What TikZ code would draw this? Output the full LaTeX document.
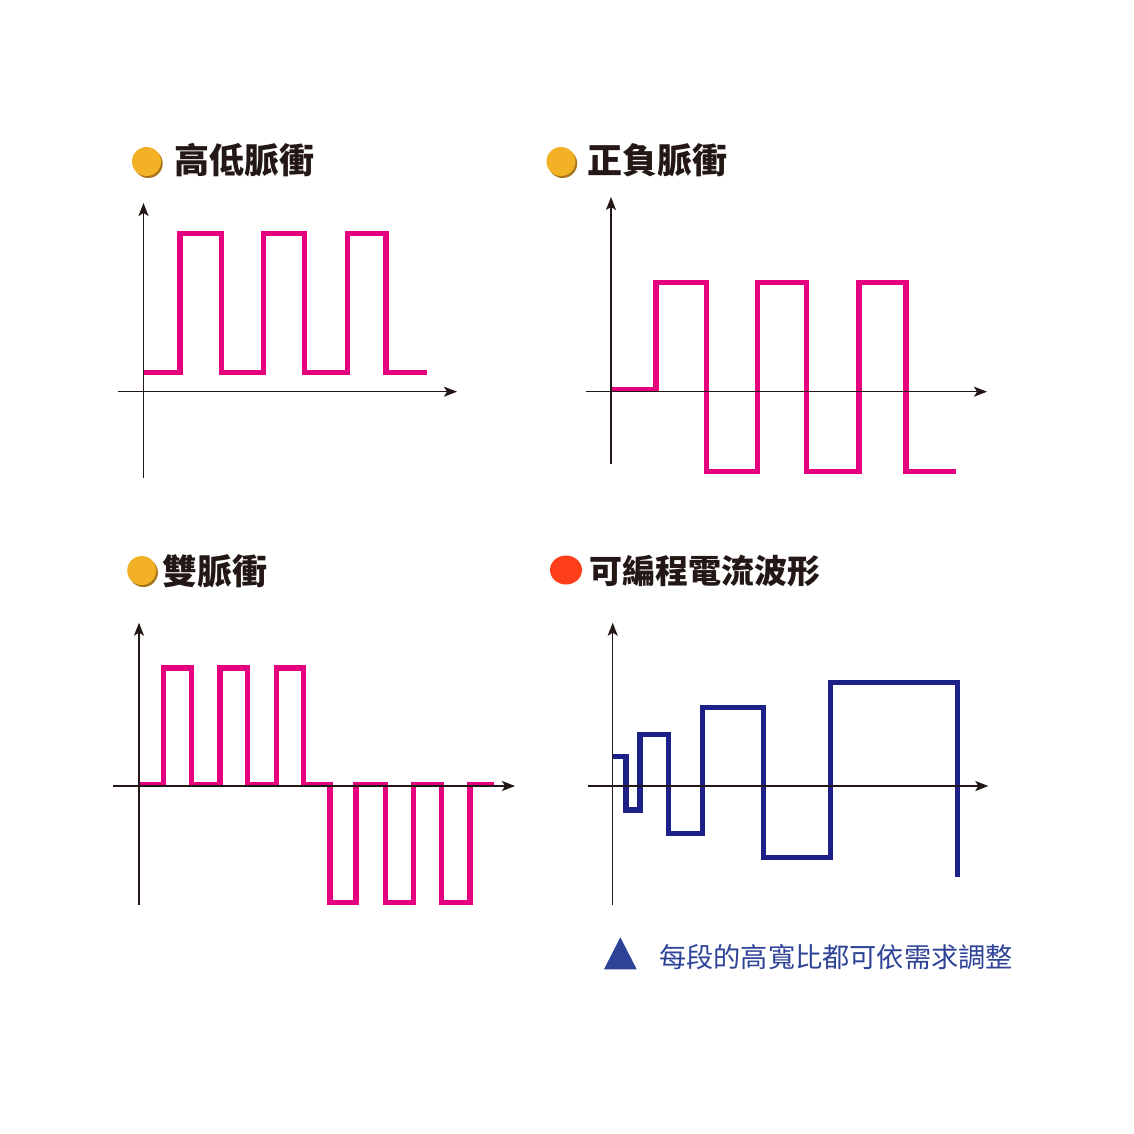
\documentclass[tikz,border=0pt]{standalone}
\usepackage{fontspec}
\usetikzlibrary{arrows.meta}
\newfontfamily\cjk{Noto Sans CJK TC}
\definecolor{inkdark}{HTML}{231815}
\definecolor{wavepink}{HTML}{E4007F}
\definecolor{wavenavy}{HTML}{1D2088}
\definecolor{bulgold}{HTML}{F3B225}
\definecolor{bulshadow}{HTML}{A8761A}
\definecolor{bulred}{HTML}{FF3F1A}
\definecolor{noteblue}{HTML}{2E4397}
\tikzset{
  axisline/.style={draw=inkdark, line width=1.4pt, -{Stealth[length=13pt,width=10pt,inset=3pt]}},
  pinkwave/.style={draw=wavepink, line width=5.5pt, line join=miter},
  navywave/.style={draw=wavenavy, line width=5.5pt, line join=miter},
  titletext/.style={anchor=west, inner sep=0pt, text=inkdark, font=\cjk\bfseries\fontsize{35}{40}\selectfont},
  notetext/.style={anchor=west, inner sep=0pt, text=noteblue, font=\cjk\fontsize{27.2}{32}\selectfont},
}
\begin{document}
\begin{tikzpicture}[x=1pt,y=-1pt]
\useasboundingbox (0,0) rectangle (1134,1134);
\fill[white] (0,0) rectangle (1134,1134);

% ---------- titles ----------
\fill[bulshadow] (148.2,163.5) circle (14.5);
\fill[bulgold] (146.5,161.5) circle (14.5);
\node[titletext] (t1) at (174,160) {高低脈衝};

\fill[bulshadow] (562.7,163.5) circle (14.5);
\fill[bulgold] (561,161.5) circle (14.5);
\node[titletext] (t2) at (587,160) {正負脈衝};

\fill[bulshadow] (143.4,572.5) circle (14.5);
\fill[bulgold] (141.7,570.5) circle (14.5);
\node[titletext] (t3) at (162,571) {雙脈衝};

\fill[bulred] (566,570) ellipse [x radius=16, y radius=14.5];
\node[titletext, font=\cjk\bfseries\fontsize{33}{40}\selectfont] (t4) at (589,571) {可編程電流波形};

% ---------- panel 1 ----------
\draw[pinkwave] (143.5,372.3) -| (180,233.3) -| (221.7,372.3) -| (263.3,233.3)
  -| (304.3,372.3) -| (347.3,233.3) -| (386,372.3) -- (426.7,372.3);
\draw[axisline] (118,391.7) -- (457,391.7);
\draw[axisline] (143.5,478) -- (143.5,203);

% ---------- panel 2 ----------
\draw[pinkwave] (611,389.5) -| (656,282.7) -| (706.7,471.3) -| (757.3,282.7)
  -| (806.7,471.3) -| (859,282.7) -| (906,471.3) -- (955.7,471.3);
\draw[axisline] (586,391.7) -- (987,391.7);
\draw[axisline] (611,464) -- (611,197);

% ---------- panel 3 ----------
\draw[pinkwave] (139,784.5) -| (163.3,668) -| (191.7,784.5) -| (220,668)
  -| (247.7,784.5) -| (276.7,668) -| (303.3,784.5) -| (330,902.7)
  -| (356,784.5) -| (385.7,902.7) -| (413.3,784.5) -| (441.7,902.7)
  -| (470,784.5) -- (494.3,784.5);
\draw[axisline] (113,786) -- (515,786);
\draw[axisline] (139,905) -- (139,622.7);

% ---------- panel 4 ----------
\draw[navywave] (612.7,756.7) -| (626,810) -| (640,734.7) -| (668.3,833.3)
  -| (702.3,707.7) -| (763.3,857.3) -| (830.7,682.7) -| (957.3,877.3);
\draw[axisline] (587.7,786) -- (988.3,786);
\draw[axisline] (612.7,905) -- (612.7,622.7);

% ---------- note ----------
\fill[noteblue] (604,969.3) -- (636.7,969.3) -- (620.3,937.3) -- cycle;
\node[notetext] (note) at (659,957.5) {每段的高寬比都可依需求調整};
\end{tikzpicture}
\end{document}
